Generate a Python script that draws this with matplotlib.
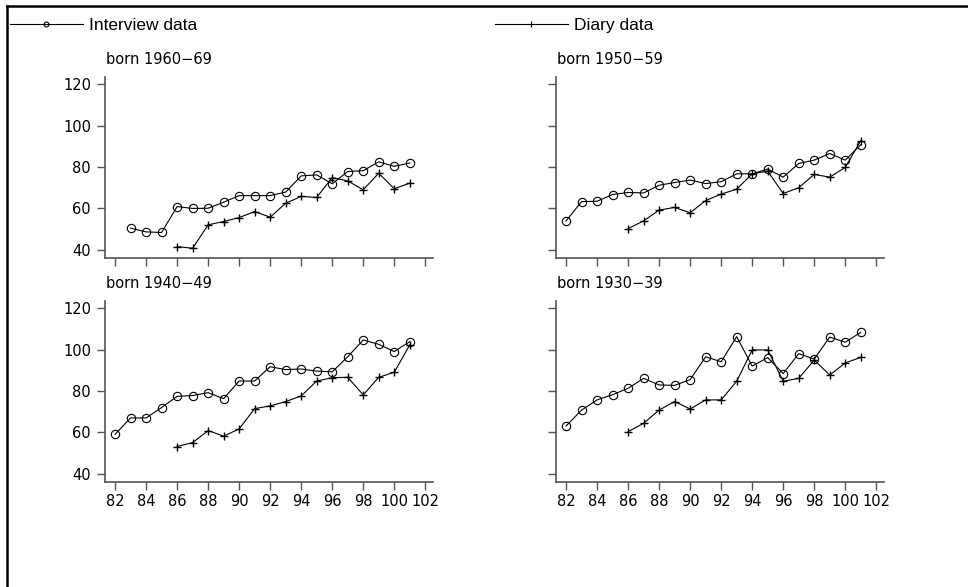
import matplotlib
matplotlib.use("Agg")
import matplotlib.pyplot as plt
from matplotlib.lines import Line2D
import numpy as np

plt.rcParams["font.family"] = "DejaVu Sans"

titles = ["born 1960\u221269", "born 1950\u221259", "born 1940\u221249", "born 1930\u221239"]

# interview series (circles), years 82..101 or 83..101
int_years = [
    list(range(83, 102)),
    list(range(82, 102)),
    list(range(82, 102)),
    list(range(82, 102)),
]
int_vals = [
    [50.5, 48.7, 48.4, 60.9, 60.0, 60.1, 63.0, 66.2, 66.2, 66.2, 67.9, 75.7,
     76.2, 71.9, 77.8, 78.2, 82.5, 80.3, 81.9],
    [54.0, 63.3, 63.5, 66.7, 67.7, 67.5, 71.2, 72.5, 73.7, 72.0, 72.9, 76.7,
     76.7, 79.0, 75.1, 81.7, 83.3, 86.5, 83.3, 90.7],
    [59.1, 67.0, 67.0, 72.0, 77.4, 77.8, 79.2, 76.3, 84.8, 84.8, 91.7, 90.3,
     90.6, 89.6, 89.2, 96.5, 104.6, 102.5, 99.0, 103.8],
    [63.1, 70.8, 75.7, 78.2, 81.3, 86.1, 82.9, 82.7, 85.5, 96.5, 94.1, 106.2,
     92.0, 96.1, 88.4, 98.0, 95.4, 106.0, 103.5, 108.3],
]

# diary series (plus), years 86..101
diary_years = list(range(86, 102))
diary_vals = [
    [41.6, 40.8, 52.1, 53.7, 55.6, 58.5, 55.8, 62.5, 65.8, 65.3, 74.9, 73.3,
     69.0, 77.0, 69.5, 72.2],
    [50.3, 54.0, 59.2, 60.5, 57.9, 63.8, 66.9, 69.3, 76.7, 78.0, 67.2, 70.0,
     76.4, 75.1, 79.8, 92.7],
    [53.2, 55.1, 60.9, 58.2, 61.7, 71.5, 72.8, 74.9, 77.6, 84.8, 86.4, 86.6,
     78.1, 86.6, 89.0, 102.2],
    [60.4, 64.4, 70.8, 74.9, 71.3, 75.7, 75.7, 84.7, 99.8, 99.8, 84.7, 86.1,
     94.9, 87.7, 93.5, 96.2],
]

x_ticks = list(range(82, 103, 2))
y_ticks = [40, 60, 80, 100, 120]

W, H = 968, 587
fig = plt.figure(figsize=(W / 100, H / 100), dpi=100)

# panel boxes in pixels: left, top, right, bottom
boxes = [
    (105, 77, 433, 258),
    (556, 77, 884, 258),
    (105, 301, 433, 482),
    (556, 301, 884, 482),
]

spine_col = "#555555"
for i, (l, t, r, b) in enumerate(boxes):
    ax = fig.add_axes([l / W, 1 - b / H, (r - l) / W, (b - t) / H])
    ax.plot(int_years[i], int_vals[i], color="black", lw=0.8, marker="o",
            mfc="none", mec="black", ms=6, mew=0.8)
    ax.plot(diary_years, diary_vals[i], color="black", lw=0.8, marker="+",
            ms=5.5, mew=1.0)
    ax.set_xlim(81.35, 102.5)
    ax.set_ylim(36.1, 123.4)
    for s in ["top", "right"]:
        ax.spines[s].set_visible(False)
    for s in ["left", "bottom"]:
        ax.spines[s].set_color(spine_col)
        ax.spines[s].set_linewidth(1.2)
    ax.set_xticks(x_ticks)
    ax.set_yticks(y_ticks)
    ax.tick_params(axis="both", direction="out", length=6, width=1.0,
                   color=spine_col, labelsize=10.5)
    ax.tick_params(axis="y", pad=4)
    ax.tick_params(axis="x", pad=2.5)
    if i < 2:
        ax.set_xticklabels([])
    if i % 2 == 1:
        ax.set_yticklabels([])
    ax.text(0.003, 1.094, titles[i], transform=ax.transAxes, fontsize=10.5,
            ha="left", va="center")

# legend at top
h_int = Line2D([], [], color="black", lw=0.8, marker="o", mfc="none",
               mec="black", ms=3.5, mew=0.8)
h_dia = Line2D([], [], color="black", lw=0.8, marker="+", ms=4, mew=0.8)
for h, lab, x0 in [(h_int, "Interview data", 10), (h_dia, "Diary data", 495)]:
    fig.legend([h], [lab], loc="center left", bbox_to_anchor=(x0 / W, 1 - 25 / H),
               frameon=False, borderpad=0, borderaxespad=0, handlelength=4.2,
               handletextpad=0.35, numpoints=1,
               prop={"family": "Liberation Sans", "size": 12.5})

# partial frame (top and left edges)
fig.add_artist(Line2D([7 / W, 7 / W], [0, 1 - 6 / H], color="black", lw=1.8,
                      transform=fig.transFigure))
fig.add_artist(Line2D([7 / W, 1], [1 - 6 / H, 1 - 6 / H], color="black", lw=1.8,
                      transform=fig.transFigure))

fig.savefig("out.png", dpi=100)
